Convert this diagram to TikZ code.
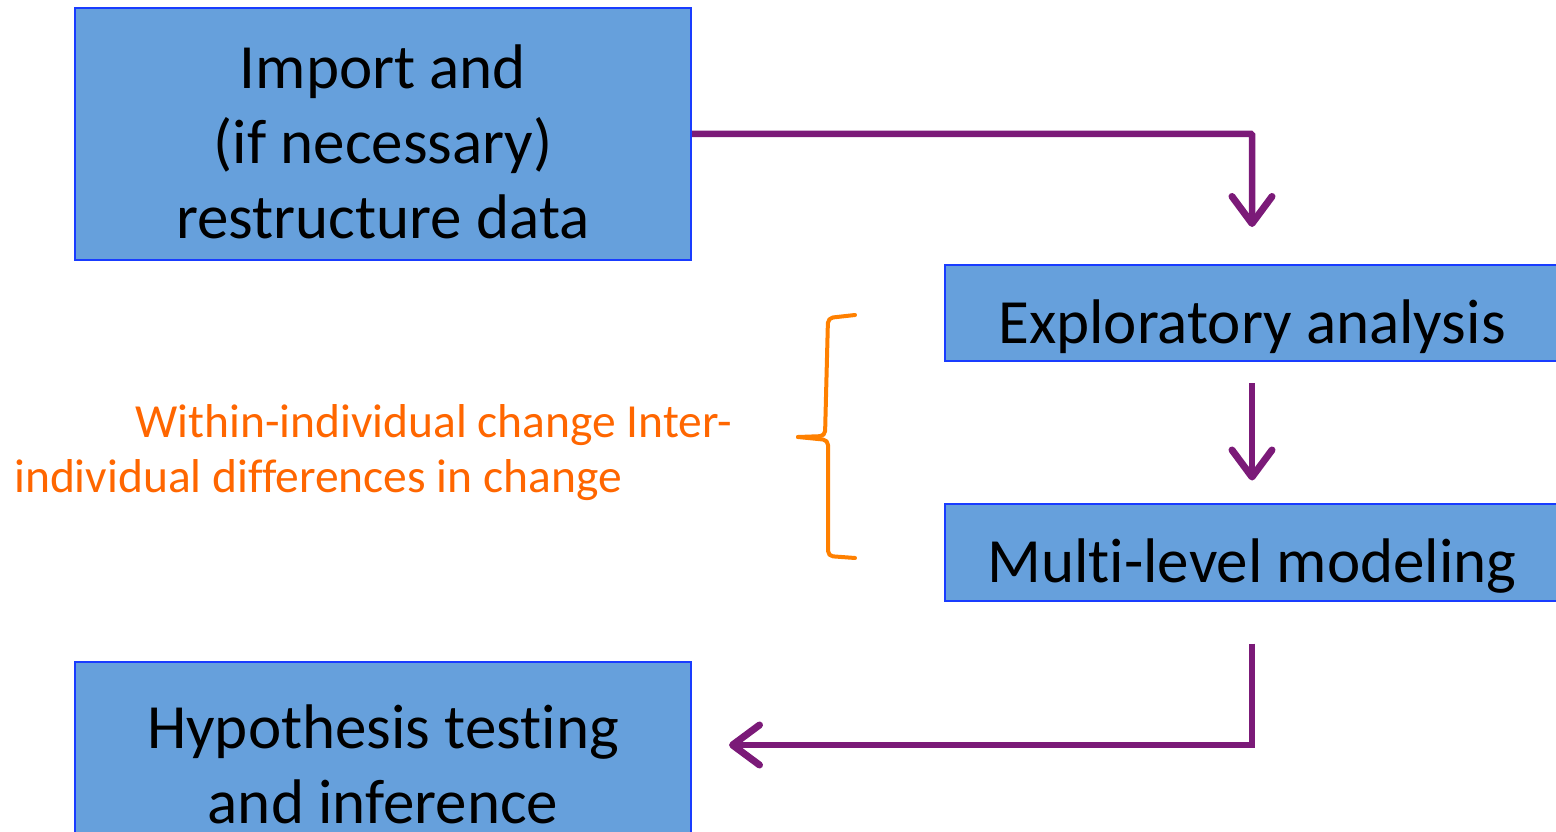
\documentclass[tikz,border=0pt]{standalone}
\usepackage{fontspec}
\setmainfont{Carlito}[Ligatures=NoCommon]
\usetikzlibrary{arrows.meta}
\definecolor{boxfill}{RGB}{102,160,220}
\definecolor{boxline}{RGB}{25,60,255}
\definecolor{arrpurple}{RGB}{123,26,120}
\definecolor{txtorange}{RGB}{255,102,0}
\definecolor{braceorange}{RGB}{255,128,0}
\tikzset{
  box/.style={draw=boxline, line width=2pt, fill=boxfill, inner sep=0pt, align=center,
    font=\fontsize{63}{75}\selectfont, text=black},
  oneline/.style={text height=60pt, text depth=0pt},
  flow/.style={draw=arrpurple, line width=6.5pt,
    -{Straight Barb[length=27pt,width=40pt,line width=7pt,round]}},
  brace/.style={draw=braceorange, line width=4pt, rounded corners=5pt, line join=round, line cap=round},
  note/.style={text=txtorange, font=\fontsize{47.5}{55}\selectfont, inner sep=0pt, anchor=base west}
}
\begin{document}
\begin{tikzpicture}[x=1pt,y=-1pt]
\useasboundingbox (0,0) rectangle (1556,832);
\clip (0,0) rectangle (1556,832);
\node[box, minimum width=616pt, minimum height=252pt, text height=209pt] (imp) at (383,134)
  {Import and\\(if necessary)\\restructure data};
\node[box, oneline, minimum width=614pt, minimum height=96pt] (expl) at (1252,313)
  {Exploratory analysis};
\node[box, oneline, minimum width=614pt, minimum height=97pt] (mlm) at (1252,552)
  {Multi-level modeling};
\node[box, minimum width=616pt, minimum height=204pt] (hyp) at (383,764)
  {Hypothesis testing\\and inference};
\draw[flow, shorten >=37pt, rounded corners=1pt] (imp.east) -| (expl.north);
\draw[flow, shorten <=21pt, shorten >=22pt] (expl.south) -- (mlm.north);
\draw[flow, shorten <=42pt, shorten >=37pt] (mlm.south) |- ([yshift=19pt]hyp.east);
\draw[brace] (855,315) -- (828,318) -- (825,436) -- (798,437);
\draw[brace] (798,437) -- (828,440) -- (828,556) -- (855,558);
\node[note] (n1) at (135,437) {Within-individual change Inter-};
\node[note] (n2) at (14,492) {individual differences in change};
\end{tikzpicture}
\end{document}
